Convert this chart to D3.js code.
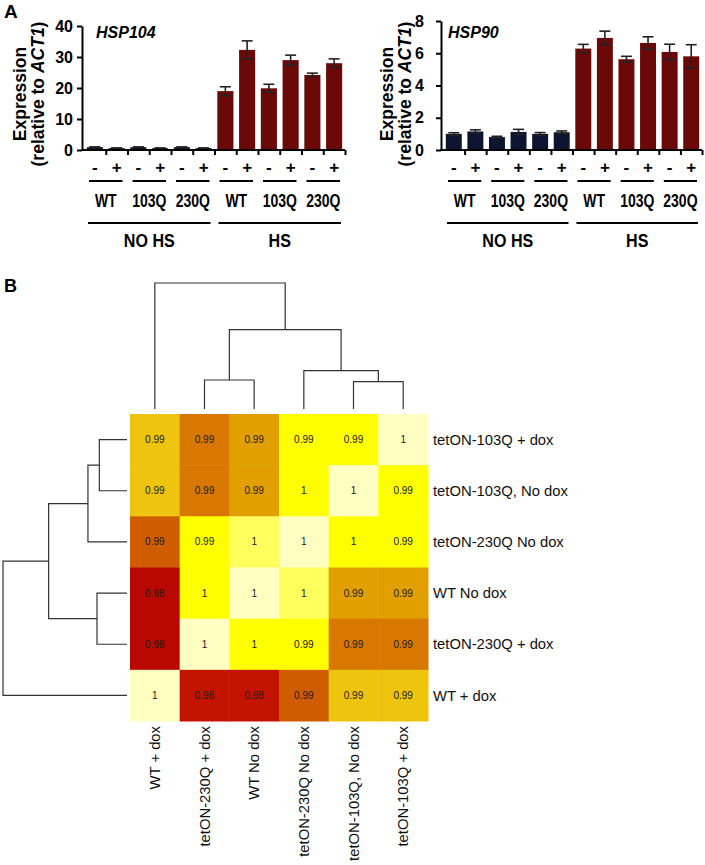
<!DOCTYPE html>
<html>
<head>
<meta charset="utf-8">
<script src="https://cdn.jsdelivr.net/npm/d3@7"></script>
<style>
  html, body { margin: 0; padding: 0; background: #fff; }
  svg { display: block; }
  .bold { font-family: "Liberation Sans", Arial, sans-serif; font-weight: bold; }
  .reg { font-family: "Liberation Sans", Arial, Helvetica, sans-serif; }
</style>
</head>
<body>
<svg id="chart" width="705" height="865"></svg>
<script>
// ---------------- DATA ----------------
const doxLabels = ["-", "+", "-", "+", "-", "+", "-", "+", "-", "+", "-", "+"];
const strainLabels = ["WT", "103Q", "230Q", "WT", "103Q", "230Q"];
const conditionLabels = ["NO HS", "HS"];

const hsp104Values = [0.9, 0.6, 0.9, 0.6, 0.9, 0.6, 19.0, 32.3, 19.9, 29.0, 24.2, 28.0];
const hsp104Errors = [0.1, 0.05, 0.1, 0.05, 0.1, 0.05, 1.4, 2.9, 1.3, 1.6, 0.6, 1.4];
const hsp104Ticks = [0, 10, 20, 30, 40];

const hsp90Values = [1.0, 1.15, 0.8, 1.12, 1.0, 1.1, 6.29, 6.95, 5.63, 6.64, 6.08, 5.81];
const hsp90Errors = [0.07, 0.1, 0.05, 0.16, 0.08, 0.08, 0.26, 0.42, 0.18, 0.38, 0.48, 0.72];
const hsp90Ticks = [0, 2, 4, 6, 8];

const heatRows = ["tetON-103Q + dox", "tetON-103Q, No dox", "tetON-230Q No dox", "WT No dox", "tetON-230Q + dox", "WT + dox"];
const heatCols = ["WT + dox", "tetON-230Q + dox", "WT No dox", "tetON-230Q No dox", "tetON-103Q, No dox", "tetON-103Q + dox"];
const corr = [
  [0.993, 0.989, 0.991, 0.994, 0.994, 1.000],
  [0.993, 0.989, 0.991, 0.996, 1.000, 0.994],
  [0.986, 0.994, 0.997, 1.000, 0.996, 0.994],
  [0.981, 0.996, 1.000, 0.997, 0.991, 0.991],
  [0.981, 1.000, 0.996, 0.994, 0.989, 0.989],
  [1.000, 0.982, 0.982, 0.986, 0.993, 0.993]
];
const colorBreaks = [0.9815, 0.984, 0.988, 0.990, 0.992, 0.9935, 0.9965, 0.9985];
const colorPalette = ["#b90800", "#c21400", "#d05c00", "#d87800", "#e1a000", "#eec40e", "#ffff00", "#ffff5e", "#ffffc2"];

// dendrogram merges (R convention: negative = leaf index, positive = earlier merge), height
const colMerges = [[-5, -6, 0.217], [-2, -3, 0.230], [-4, 1, 0.305], [2, 3, 0.630], [-1, 4, 1.0]];
const rowMerges = [[-1, -2, 0.223], [-4, -5, 0.242], [-3, 1, 0.315], [3, 2, 0.632], [4, -6, 1.0]];

// ---------------- DRAW ----------------
const svg = d3.select("#chart");

svg.append("text").attr("class", "bold").attr("x", 4).attr("y", 18).attr("font-size", 19).text("A");
svg.append("text").attr("class", "bold").attr("x", 4).attr("y", 292).attr("font-size", 18).text("B");

function barChart(cfg) {
  const g = svg.append("g");
  const x = d3.scaleBand().domain(d3.range(cfg.values.length)).range([cfg.x0, cfg.x1]).paddingInner(0.26).paddingOuter(0.13);
  const xb = d3.scaleLinear().domain([0, cfg.values.length]).range([cfg.x0, cfg.x1]);
  const y = d3.scaleLinear().domain([0, cfg.ticks[cfg.ticks.length - 1]]).range([150, cfg.yTop]);

  // bars
  g.selectAll("rect.bar").data(cfg.values).join("rect")
    .attr("x", (d, i) => x(i)).attr("width", x.bandwidth())
    .attr("y", d => y(d)).attr("height", d => y(0) - y(d))
    .attr("fill", (d, i) => i < 6 ? "#0c1430" : "#6b0808");

  // error bars
  const eb = g.append("g").attr("stroke", "#222").attr("stroke-width", 1.6);
  cfg.values.forEach((v, i) => {
    const cx = x(i) + x.bandwidth() / 2, e = cfg.errors[i];
    eb.append("line").attr("x1", cx).attr("x2", cx).attr("y1", y(v + e)).attr("y2", y(Math.max(0, v - e)));
    eb.append("line").attr("x1", cx - 5.5).attr("x2", cx + 5.5).attr("y1", y(v + e)).attr("y2", y(v + e));
    eb.append("line").attr("x1", cx - 5.5).attr("x2", cx + 5.5).attr("y1", y(Math.max(0, v - e))).attr("y2", y(Math.max(0, v - e)));
  });

  // y axis
  const ya = g.append("g").attr("transform", `translate(${cfg.axisX},0)`)
    .call(d3.axisLeft(y).tickValues(cfg.ticks).tickSize(5).tickSizeOuter(0).tickPadding(cfg.tickPad));
  ya.select(".domain").attr("stroke-width", 2).attr("stroke", "#000");
  ya.selectAll(".tick line").attr("stroke-width", 2);
  ya.selectAll(".tick text").attr("class", "bold").attr("font-size", 16).attr("fill", "#000");

  // x axis
  g.append("line").attr("x1", cfg.axisX - 1).attr("x2", cfg.x1).attr("y1", 150).attr("y2", 150)
    .attr("stroke", "#000").attr("stroke-width", 2);
  const xa = g.append("g").attr("transform", "translate(0,150)")
    .call(d3.axisBottom(xb).tickValues(d3.range(1, cfg.values.length + 1)).tickSize(5).tickFormat(""));
  xa.select(".domain").remove();
  xa.selectAll(".tick line").attr("stroke-width", 2);

  // title
  g.append("text").attr("class", "bold").attr("x", cfg.titleX).attr("y", 38)
    .attr("font-size", 16).attr("font-style", "italic").text(cfg.title);

  // y labels
  const yMid = 94;
  g.append("text").attr("class", "bold").attr("font-size", 17.5).attr("text-anchor", "middle")
    .attr("transform", `translate(${cfg.lab1X},${yMid}) rotate(-90)`).text("Expression");
  const t2 = g.append("text").attr("class", "bold").attr("font-size", 17.5).attr("text-anchor", "middle")
    .attr("transform", `translate(${cfg.lab2X},${yMid}) rotate(-90)`);
  t2.append("tspan").text("(relative to ");
  t2.append("tspan").attr("font-style", "italic").text("ACT1");
  t2.append("tspan").text(")");

  // +/- labels
  g.selectAll("text.dox").data(doxLabels).join("text").attr("class", "bold")
    .attr("x", (d, i) => x(i) + x.bandwidth() / 2).attr("y", 173)
    .attr("text-anchor", "middle").attr("font-size", 17).text(d => d);

  // pair lines & strain labels (condensed bold)
  strainLabels.forEach((s, k) => {
    const a = xb(2 * k), b = xb(2 * k + 2);
    g.append("line").attr("x1", a + 5).attr("x2", b - 5).attr("y1", 181).attr("y2", 181)
      .attr("stroke", "#000").attr("stroke-width", 2);
    g.append("text").attr("class", "bold").attr("text-anchor", "middle").attr("font-size", 17.5)
      .attr("transform", `translate(${(a + b) / 2},207) scale(0.8,1)`).text(s);
  });
  conditionLabels.forEach((c, k) => {
    const a = xb(6 * k), b = xb(6 * k + 6);
    g.append("line").attr("x1", a + 4).attr("x2", b - 4).attr("y1", 223).attr("y2", 223)
      .attr("stroke", "#000").attr("stroke-width", 2);
    g.append("text").attr("class", "bold").attr("text-anchor", "middle").attr("font-size", 17.5)
      .attr("transform", `translate(${(a + b) / 2},247) scale(0.92,1)`).text(c);
  });
}

barChart({ values: hsp104Values, errors: hsp104Errors, ticks: hsp104Ticks, x0: 84, x1: 345, axisX: 82, yTop: 26,
  title: "HSP104", titleX: 96, lab1X: 26, lab2X: 44, tickPad: 4 });
barChart({ values: hsp90Values, errors: hsp90Errors, ticks: hsp90Ticks, x0: 443, x1: 702, axisX: 441, yTop: 21,
  title: "HSP90", titleX: 448, lab1X: 393, lab2X: 411, tickPad: 12 });

// ---------------- HEATMAP ----------------
const hx = d3.scaleBand().domain(heatCols).range([130, 428]);
const hy = d3.scaleBand().domain(heatRows).range([414, 721]);
const color = d3.scaleThreshold().domain(colorBreaks).range(colorPalette);
const fmt = v => String(+v.toFixed(2));

const hm = svg.append("g");
heatRows.forEach((r, i) => {
  heatCols.forEach((c, j) => {
    hm.append("rect").attr("x", hx(c)).attr("y", hy(r))
      .attr("width", hx.bandwidth() + 0.5).attr("height", hy.bandwidth() + 0.5)
      .attr("fill", color(corr[i][j]));
    hm.append("text").attr("class", "reg").attr("x", hx(c) + hx.bandwidth() / 2).attr("y", hy(r) + hy.bandwidth() / 2)
      .attr("dy", "0.35em").attr("text-anchor", "middle").attr("font-size", 10).attr("fill", "#1a1a1a")
      .text(fmt(corr[i][j]));
  });
});

// row labels
hm.selectAll("text.rowlab").data(heatRows).join("text").attr("class", "reg")
  .attr("x", 433).attr("y", d => hy(d) + hy.bandwidth() / 2).attr("dy", "0.35em")
  .attr("font-size", 14.8).attr("fill", "#111").text(d => d);
// column labels
hm.selectAll("text.collab").data(heatCols).join("text").attr("class", "reg")
  .attr("text-anchor", "end").attr("font-size", 14.8).attr("fill", "#111")
  .attr("transform", d => `translate(${hx(d) + hx.bandwidth() / 2},726) rotate(-90)`)
  .attr("dy", "0.35em").text(d => d);

// ---------------- DENDROGRAMS ----------------
function dendro(merges, leafPos, hScale, vertical) {
  const g = svg.append("g").attr("stroke", "#333").attr("stroke-width", 1.2).attr("fill", "none");
  const nodes = [];
  const get = id => id < 0 ? { p: leafPos(-id - 1), h: 0 } : nodes[id - 1];
  merges.forEach(([a, b, h]) => {
    const A = get(a), B = get(b);
    const pts = [[A.p, A.h], [A.p, h], [B.p, h], [B.p, B.h]];
    const path = d3.line()
      .x(d => vertical ? d[0] : hScale(d[1]))
      .y(d => vertical ? hScale(d[1]) : d[0]);
    g.append("path").attr("d", path(pts));
    nodes.push({ p: (A.p + B.p) / 2, h: h });
  });
}
dendro(colMerges, i => hx(heatCols[i]) + hx.bandwidth() / 2, d3.scaleLinear().domain([0, 1]).range([409, 283]), true);
dendro(rowMerges, i => hy(heatRows[i]) + hy.bandwidth() / 2, d3.scaleLinear().domain([0, 1]).range([127, 3]), false);
</script>
</body>
</html>
